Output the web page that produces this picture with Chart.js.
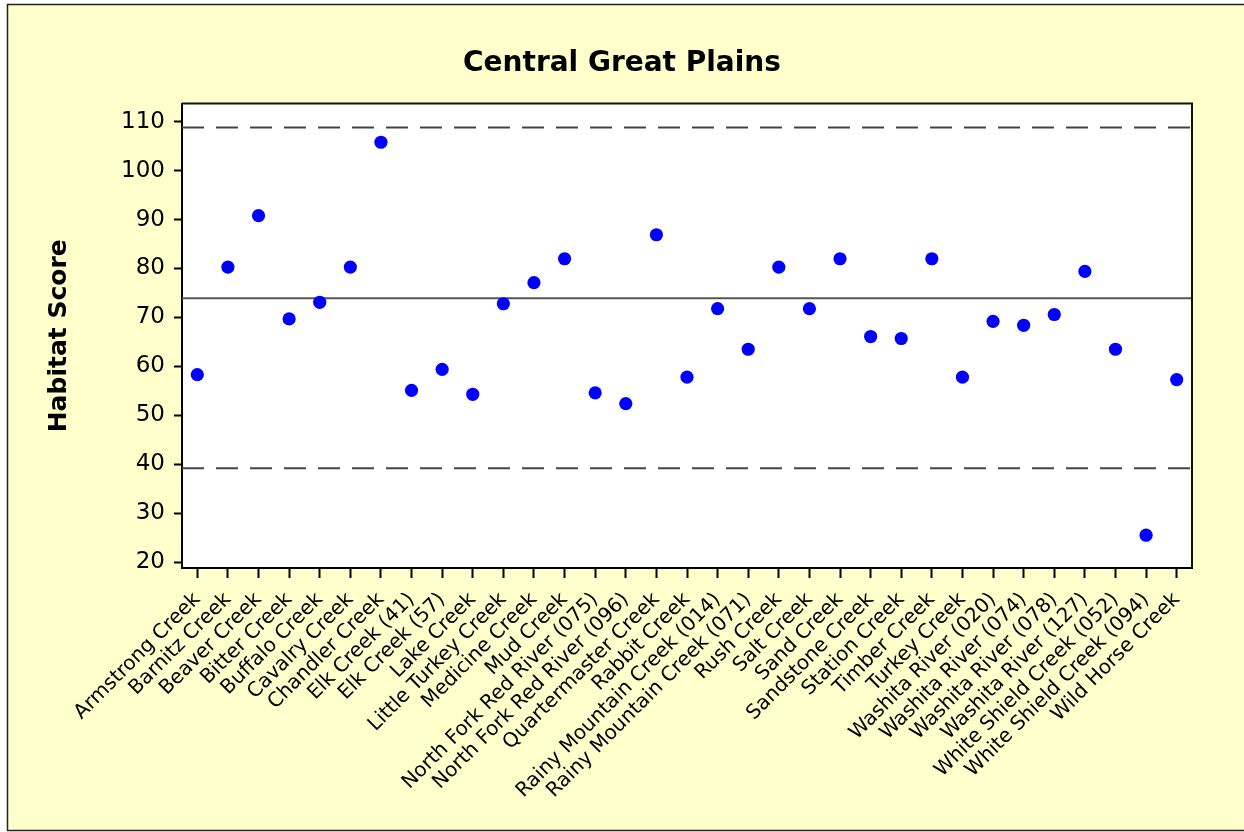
<!DOCTYPE html>
<html>
<head>
<meta charset="utf-8">
<script src="https://cdn.jsdelivr.net/npm/chart.js@4/dist/chart.umd.min.js"></script>
<style>
  html, body { margin: 0; padding: 0; background: #ffffff; }
  #wrap { position: relative; width: 1244px; height: 832px; }
</style>
</head>
<body>
<div id="wrap"><canvas id="chart" width="1244" height="832"></canvas></div>
<script>
// data
const streams = [
    "Armstrong Creek", "Barnitz Creek", "Beaver Creek", "Bitter Creek", "Buffalo Creek",
    "Cavalry Creek", "Chandler Creek", "Elk Creek (41)", "Elk Creek (57)", "Lake Creek",
    "Little Turkey Creek", "Medicine Creek", "Mud Creek", "North Fork Red River (075)",
    "North Fork Red River (096)", "Quartermaster Creek", "Rabbit Creek",
    "Rainy Mountain Creek (014)", "Rainy Mountain Creek (071)", "Rush Creek", "Salt Creek",
    "Sand Creek", "Sandstone Creek", "Station Creek", "Timber Creek", "Turkey Creek",
    "Washita River (020)", "Washita River (074)", "Washita River (078)", "Washita River (127)",
    "White Shield Creek (052)", "White Shield Creek (094)", "Wild Horse Creek"
];
const habitatScores = [
    58.3, 80.3, 90.8, 69.7, 73.1,
    80.3, 105.8, 55.1, 59.4, 54.3,
    72.8, 77.1, 82.0, 54.6,
    52.4, 86.9, 57.8,
    71.8, 63.5, 80.3, 71.8,
    82.0, 66.1, 65.7, 82.0, 57.8,
    69.2, 68.4, 70.6, 79.4,
    63.5, 25.5, 57.3
];
const yTicks = [20, 30, 40, 50, 60, 70, 80, 90, 100, 110];
const upperLimit = 108.8;
const centerLine = 73.9;
const lowerLimit = 39.2;

const yellow = "#ffffcc";

// background, frame and limit lines
const decor = {
    id: "decor",
    beforeDraw(chart) {
        const ctx = chart.ctx;
        const a = chart.chartArea;
        ctx.save();
        ctx.fillStyle = "#ffffff";
        ctx.fillRect(0, 0, chart.width, chart.height);
        ctx.fillStyle = yellow;
        ctx.fillRect(7, 4, chart.width - 7, chart.height - 5);
        ctx.strokeStyle = "#222";
        ctx.lineWidth = 1.5;
        ctx.beginPath();
        ctx.moveTo(chart.width, 4.5);
        ctx.lineTo(7.5, 4.5);
        ctx.lineTo(7.5, 830.5);
        ctx.lineTo(chart.width, 830.5);
        ctx.stroke();
        ctx.fillStyle = "#ffffff";
        ctx.fillRect(a.left, a.top, a.right - a.left, a.bottom - a.top);
        ctx.restore();
    },
    beforeDatasetsDraw(chart) {
        const ctx = chart.ctx;
        const a = chart.chartArea;
        const y = chart.scales.y;
        ctx.save();
        ctx.strokeStyle = "#444";
        ctx.lineWidth = 2;
        for (const v of [upperLimit, lowerLimit]) {
            const py = y.getPixelForValue(v);
            ctx.setLineDash([22, 12]);
            ctx.beginPath();
            ctx.moveTo(a.left, py);
            ctx.lineTo(a.right, py);
            ctx.stroke();
        }
        ctx.setLineDash([]);
        ctx.strokeStyle = "#555";
        const cy = y.getPixelForValue(centerLine);
        ctx.beginPath();
        ctx.moveTo(a.left, cy);
        ctx.lineTo(a.right, cy);
        ctx.stroke();
        ctx.restore();
    },
    afterDraw(chart) {
        const ctx = chart.ctx;
        const a = chart.chartArea;
        ctx.save();
        ctx.strokeStyle = "#111";
        ctx.lineWidth = 2;
        ctx.beginPath();
        ctx.moveTo(a.left, a.top);
        ctx.lineTo(a.right, a.top);
        ctx.lineTo(a.right, a.bottom);
        ctx.stroke();
        ctx.restore();
    }
};

new Chart(document.getElementById("chart"), {
    type: "line",
    data: {
        labels: streams,
        datasets: [{
            label: "Habitat Score",
            data: habitatScores,
            showLine: false,
            pointRadius: 6.6,
            pointHoverRadius: 6.6,
            pointBackgroundColor: "#0000ff",
            pointBorderWidth: 0,
            borderColor: "#0000ff"
        }]
    },
    options: {
        responsive: false,
        animation: false,
        devicePixelRatio: 1,
        layout: { padding: { top: 0, left: 0, right: 0, bottom: 0 } },
        plugins: {
            legend: { display: false },
            tooltip: { enabled: false },
            title: {
                display: true,
                text: "Central Great Plains",
                color: "#000",
                font: { family: "DejaVu Sans", size: 28, weight: "bold", lineHeight: 1.2 },
                padding: { top: 47, bottom: 23 }
            }
        },
        scales: {
            x: {
                type: "category",
                offset: true,
                grid: {
                    offset: false,
                    drawOnChartArea: false,
                    drawTicks: true,
                    tickLength: 10,
                    tickWidth: 2,
                    tickColor: "#000"
                },
                border: { display: true, color: "#000", width: 2 },
                ticks: {
                    autoSkip: false,
                    minRotation: 45,
                    maxRotation: 45,
                    padding: 10,
                    color: "#000",
                    font: { family: "DejaVu Sans", size: 20 }
                },
                afterFit(scale) { scale.height = 264; }
            },
            y: {
                min: 18.8,
                max: 113.7,
                grid: {
                    drawOnChartArea: false,
                    drawTicks: true,
                    tickLength: 8,
                    tickWidth: 2,
                    tickColor: "#000"
                },
                border: { display: true, color: "#000", width: 2 },
                afterBuildTicks(scale) {
                    scale.ticks = yTicks.map(v => ({ value: v }));
                },
                ticks: {
                    padding: 9,
                    color: "#000",
                    font: { family: "DejaVu Sans", size: 23 }
                },
                title: {
                    display: true,
                    text: "Habitat Score",
                    color: "#000",
                    font: { family: "DejaVu Sans", size: 25, weight: "bold", lineHeight: 1.2 },
                    padding: { top: 44, bottom: 0 }
                },
                afterFit(scale) { scale.width = 182; }
            },
            spacer: {
                position: "right",
                display: true,
                grid: { display: false, drawTicks: false },
                border: { display: false },
                ticks: { display: false },
                afterFit(scale) { scale.width = 52; }
            }
        }
    },
    plugins: [decor]
});
</script>
</body>
</html>
